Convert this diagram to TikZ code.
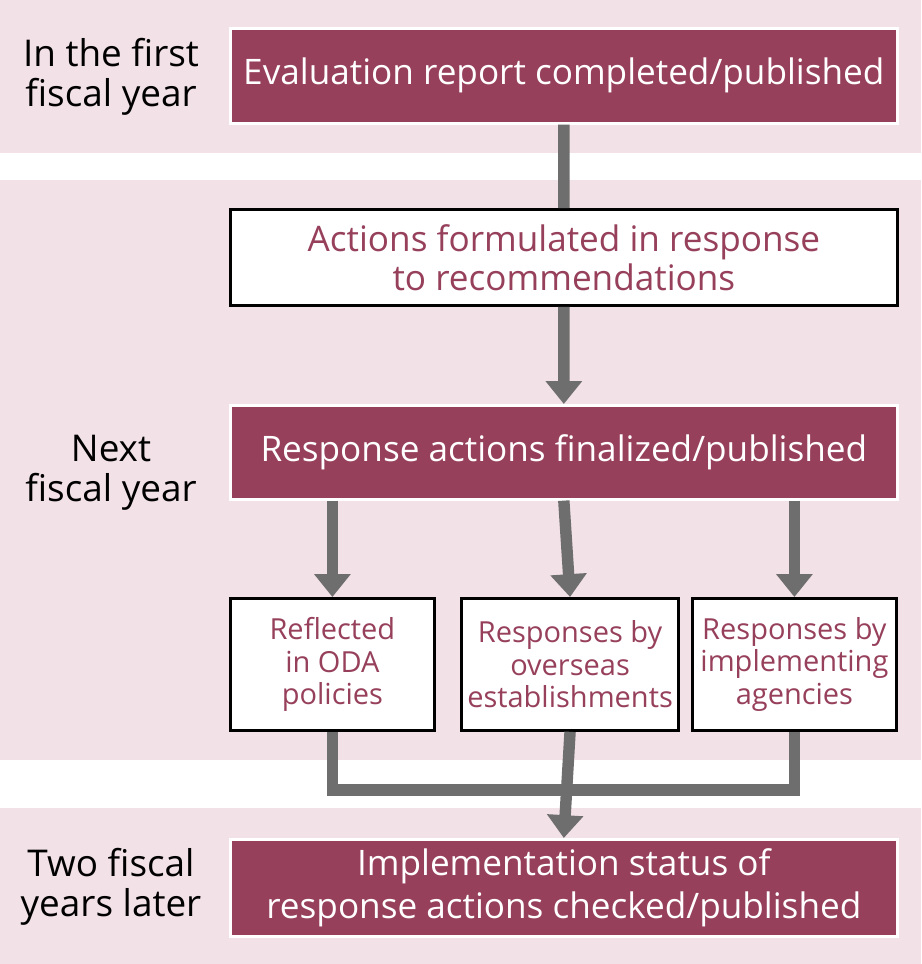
\documentclass[tikz,border=0pt]{standalone}
\usepackage{fontspec}
\setmainfont{Open Sans}
\usetikzlibrary{arrows.meta}
\definecolor{maroon}{HTML}{97405B}
\definecolor{band}{HTML}{F2E1E6}
\definecolor{flowgray}{HTML}{6E6E6E}
\begin{document}
\begin{tikzpicture}[x=0.02cm,y=-0.02cm,
    dark/.style={rectangle, draw=white, line width=1.5pt, fill=maroon, text=white, font=\fontsize{20}{24}\selectfont, align=center, anchor=north west},
    light/.style={rectangle, draw=black, line width=1.6pt, fill=white, text=maroon, font=\fontsize{20}{22}\selectfont, align=center, anchor=north west},
    small/.style={light, font=\fontsize{16.5}{18.5}\selectfont},
    year/.style={font=\fontsize{21}{23}\selectfont, align=center},
    flowline/.style={draw=flowgray, line width=6.5pt},
    flowarrow/.style={flowline, -{Triangle[length=13pt,width=20pt]}}
]
  \useasboundingbox (0,0) rectangle (921,964);
  % bands
  \fill[band] (0,0) rectangle (921,153);
  \fill[band] (0,180) rectangle (921,760);
  \fill[band] (0,808) rectangle (921,964);

  \node[year] (y1) at (111,77) {In the first\\fiscal year};
  \node[year] (y2) at (111,473) {Next\\fiscal year};
  \node[year] (y3) at (111,887) {Two fiscal\\years later};

  \node[dark, minimum width=667*0.02cm, minimum height=95*0.02cm] (report) at (229,27) {Evaluation report completed/published};
  \node[light, minimum width=667*0.02cm, minimum height=96*0.02cm] (formulated) at (229,208) {Actions formulated in response\\to recommendations};
  \node[dark, minimum width=667*0.02cm, minimum height=94*0.02cm] (finalized) at (229,404) {Response actions finalized/published};
  \node[small, minimum width=204*0.02cm, minimum height=132*0.02cm] (oda) at (229,597) {Reflected\\in ODA\\policies};
  \node[small, minimum width=204*0.02cm, minimum height=132*0.02cm] (overseas) at (460,597) {Responses by\\overseas\\establishments};
  \node[small, minimum width=204*0.02cm, minimum height=132*0.02cm] (agencies) at (691,597) {Responses by\\implementing\\agencies};
  \node[dark, minimum width=667*0.02cm, minimum height=97*0.02cm] (status) at (229,838) {Implementation status of\\response actions checked/published};

  \coordinate (join) at (563,790);
  \draw[flowline] (report.south) -- (formulated.north);
  \draw[flowarrow] (formulated.south) -- (finalized.north);
  \draw[flowarrow] (finalized.south -| oda.north) -- (oda.north);
  \draw[flowarrow] (finalized.south) -- (overseas.north);
  \draw[flowarrow] (finalized.south -| agencies.north) -- (agencies.north);
  \draw[flowline] (oda.south) |- (join);
  \draw[flowline] (agencies.south) |- (join);
  \draw[flowarrow] (overseas.south) -- (status.north);
\end{tikzpicture}
\end{document}
